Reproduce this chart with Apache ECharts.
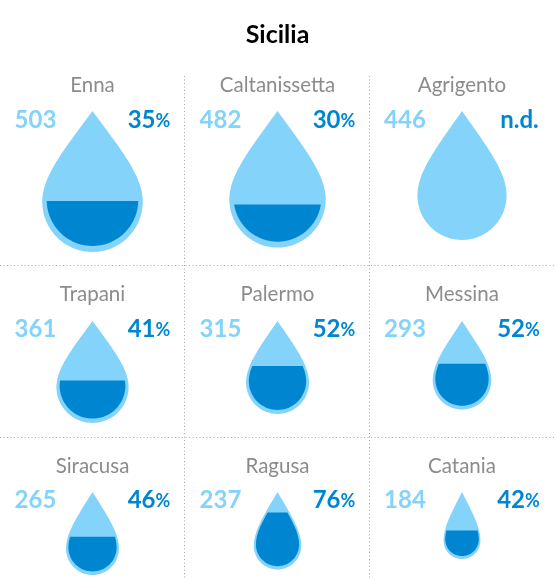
<!DOCTYPE html>
<html><head><meta charset="utf-8">
<style>html,body{margin:0;padding:0;background:#fff}#c{width:555px;height:580px}</style>
<script src="https://cdn.jsdelivr.net/npm/echarts@6/dist/echarts.min.js"></script>
</head><body><div id="c"></div>
<script>
var titleText = 'Sicilia';
var cities = ['Enna','Caltanissetta','Agrigento','Trapani','Palermo','Messina','Siracusa','Ragusa','Catania'];
var values = [503,482,446,361,315,293,265,237,184];
var shares = [35,30,null,41,52,52,46,76,42];
var missingLabel = 'n.d.';

var LIGHT='#83d3fb', DARK='#0086d1', GREY='#8c8c8c';
var colX=[92.5,277.5,462], rowName=[85,294,466], rowNum=[120,329,500], rowTip=[111,321,492];
var dividersV=[184.5,369.5], dividersH=[265.5,437.5];

// height scale of a drop: piecewise linear over the value range
var heightScale=[[184,67],[361,102],[446,129],[503,141]];
var dropHeight=function(v){
  for(var i=1;i<heightScale.length;i++){
    if(v<=heightScale[i][0]){
      var a=heightScale[i-1],b=heightScale[i];
      return a[1]+(b[1]-a[1])*(v-a[0])/(b[0]-a[0]);
    }
  }
  return heightScale[heightScale.length-1][1];
};
var dropPts=function(w,h){
  var r=w/2, cy=h-r, i, t;
  var p0=[0,0], p1=[r*0.56,cy*0.42], p2=[r,cy*0.72], p3=[r,cy];
  var right=[];
  for(i=0;i<=24;i++){t=i/24;var u=1-t;
    right.push([u*u*u*p0[0]+3*u*u*t*p1[0]+3*u*t*t*p2[0]+t*t*t*p3[0],
                u*u*u*p0[1]+3*u*u*t*p1[1]+3*u*t*t*p2[1]+t*t*t*p3[1]]);}
  for(i=1;i<=36;i++){var a=Math.PI*i/36;right.push([r*Math.cos(a),cy+r*Math.sin(a)]);}
  var left=[];
  for(i=24;i>=1;i--){left.push([-right[i][0],right[i][1]]);}
  return right.concat(left);
};
var clipBelow=function(pts,level){
  var out=[],n=pts.length;
  for(var i=0;i<n;i++){
    var a=pts[i],b=pts[(i+1)%n],ia=a[1]>=level,ib=b[1]>=level;
    if(ia)out.push(a);
    if(ia!==ib){var t=(level-a[1])/(b[1]-a[1]);out.push([a[0]+t*(b[0]-a[0]),level]);}
  }
  return out;
};
var renderDrop=function(params,api){
  var i=api.value(0), v=api.value(1), s=api.value(2);
  var c=i%3, r=Math.floor(i/3);
  var o=api.coord([colX[c],rowTip[r]]);
  var w=api.size([v*0.2,0])[0];
  var h=api.size([0,dropHeight(v)])[1];
  var outer=dropPts(w,h);
  var children=[{type:'polygon',shape:{points:outer.map(function(p){return [o[0]+p[0],o[1]+p[1]];})},style:{fill:LIGHT}}];
  if(!isNaN(s)){
    var k=0.91, gap=h*0.043, ih=h*k, bottom=h-gap;
    var inner=outer.map(function(p){return [p[0]*k,bottom-(h-p[1])*k];});
    var fill=clipBelow(inner,bottom-ih*s/100);
    children.push({type:'polygon',shape:{points:fill.map(function(p){return [o[0]+p[0],o[1]+p[1]];})},style:{fill:DARK}});
  }
  children.push({type:'text',style:{x:colX[c],y:rowName[r],text:cities[i],fill:GREY,font:'400 20.5px Lato',align:'center',verticalAlign:'middle'}});
  children.push({type:'text',style:{x:colX[c]-57,y:rowNum[r],text:String(v),fill:LIGHT,font:'700 24px Lato',align:'center',verticalAlign:'middle'}});
  var pctText=isNaN(s)?'{a|'+missingLabel+'}':'{a|'+s+'}{b|%}';
  children.push({type:'text',style:{x:colX[c]+(isNaN(s)?57.5:56.5),y:rowNum[r],text:pctText,align:'center',verticalAlign:'middle',
    rich:{a:{fill:DARK,font:'700 24px Lato'},b:{fill:DARK,font:'700 18px Lato',padding:[3,0,0,0]}}}});
  return {type:'group',children:children};
};
var renderDivider=function(params,api){
  var a=api.coord([api.value(0),api.value(1)]), b=api.coord([api.value(2),api.value(3)]);
  return {type:'line',shape:{x1:a[0],y1:a[1],x2:b[0],y2:b[1]},style:{stroke:'#a8a8a8',lineWidth:1,lineDash:[1,2.5]}};
};
var dividerData=dividersV.map(function(x){return [x,76,x,580];}).concat(dividersH.map(function(y){return [0,y,555,y];}));
var chart=echarts.init(document.getElementById('c'),null,{renderer:'canvas'});
chart.setOption({
  animation:false,
  title:{text:titleText,left:'center',top:17,textStyle:{fontFamily:'Lato',fontWeight:700,fontSize:25,color:'#000'}},
  grid:{left:0,right:0,top:0,bottom:0},
  xAxis:{type:'value',min:0,max:555,show:false},
  yAxis:{type:'value',min:0,max:580,inverse:true,show:false},
  series:[
    {type:'custom',coordinateSystem:'cartesian2d',clip:false,silent:true,data:dividerData,renderItem:renderDivider},
    {type:'custom',coordinateSystem:'cartesian2d',clip:false,silent:true,
      encode:{x:1,y:2},
      data:cities.map(function(n,i){return [i,values[i],shares[i]===null?'-':shares[i]];}),
      renderItem:renderDrop}
  ]
});
</script></body></html>
